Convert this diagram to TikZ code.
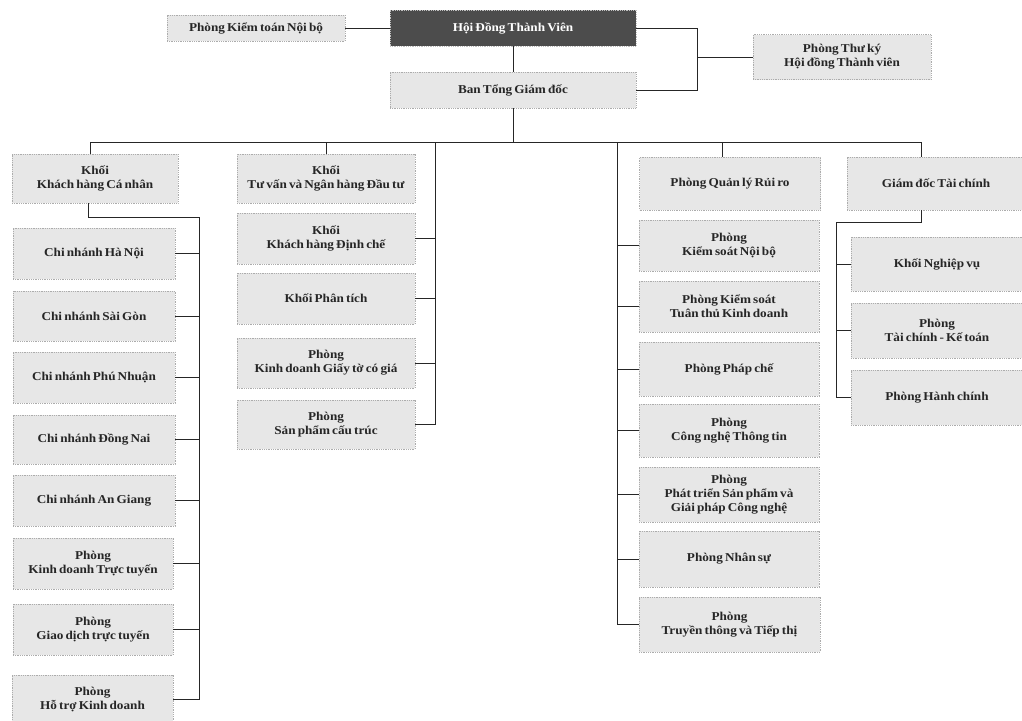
\documentclass[tikz,border=0pt]{standalone}
\usepackage{fontspec}
\setmainfont{Liberation Serif}[WordSpace=0.65, FakeStretch=1.1]
\begin{document}
\begin{tikzpicture}[x=1pt,y=-1pt,
  box/.style={draw=gray!65, densely dotted, line width=0.8pt, fill=gray!19, inner sep=1pt, align=center,
     text=black!85, font=\bfseries\fontsize{12}{14}\selectfont},
  topbox/.style={box, fill=black!70, draw=gray!50, text=white},
  conn/.style={draw=black!85, line width=0.9pt}]
\useasboundingbox (0,0) rectangle (1022,720);
% top
\node[box, minimum width=178pt, minimum height=26pt] (pktnb) at (256,28) {Phòng Kiểm toán Nội bộ};
\node[topbox, minimum width=246pt, minimum height=36pt] (hdtv) at (513,28) {Hội Đồng Thành Viên};
\node[box, minimum width=178pt, minimum height=45pt] (thuky) at (842,57) {Phòng Thư ký\\Hội đồng Thành viên};
\node[box, minimum width=246pt, minimum height=36pt] (btgd) at (513,90) {Ban Tổng Giám đốc};
% left column
\node[box, minimum width=166pt, minimum height=49pt] (kkcn) at (95,178.5) {Khối\\Khách hàng Cá nhân};
\node[box, minimum width=162pt, minimum height=51pt] (cn1) at (94,253.5) {Chi nhánh Hà Nội};
\node[box, minimum width=162pt, minimum height=50pt] (cn2) at (94,316) {Chi nhánh Sài Gòn};
\node[box, minimum width=162pt, minimum height=51pt] (cn3) at (94,377.5) {Chi nhánh Phú Nhuận};
\node[box, minimum width=162pt, minimum height=49pt] (cn4) at (94,439.5) {Chi nhánh Đồng Nai};
\node[box, minimum width=162pt, minimum height=51pt] (cn5) at (94,500.5) {Chi nhánh An Giang};
\node[box, minimum width=160pt, minimum height=51pt] (pkdtt) at (93,563.5) {Phòng\\Kinh doanh Trực tuyến};
\node[box, minimum width=160pt, minimum height=51pt] (pgdtt) at (93,629.5) {Phòng\\Giao dịch trực tuyến};
\node[box, minimum width=161pt, minimum height=48pt] (phtkd) at (92.5,699) {Phòng\\Hỗ trợ Kinh doanh};
% middle column
\node[box, minimum width=178pt, minimum height=49pt] (ktv) at (326,178.5) {Khối\\Tư vấn và Ngân hàng Đầu tư};
\node[box, minimum width=178pt, minimum height=51pt] (kkhdc) at (326,238.5) {Khối\\Khách hàng Định chế};
\node[box, minimum width=178pt, minimum height=51pt] (kpt) at (326,298.5) {Khối Phân tích};
\node[box, minimum width=178pt, minimum height=50pt] (pkdgt) at (326,363) {Phòng\\Kinh doanh Giấy tờ có giá};
\node[box, minimum width=178pt, minimum height=49pt] (pspct) at (326,424.5) {Phòng\\Sản phẩm cấu trúc};
% right column
\node[box, minimum width=181pt, minimum height=53pt] (pqlrr) at (730,183.5) {Phòng Quản lý Rủi ro};
\node[box, minimum width=180pt, minimum height=51pt] (pksnb) at (729,245.5) {Phòng\\Kiểm soát Nội bộ};
\node[box, minimum width=180pt, minimum height=51pt] (pksttkd) at (729,306.5) {Phòng Kiểm soát\\Tuân thủ Kinh doanh};
\node[box, minimum width=180pt, minimum height=54pt] (ppc) at (729,369) {Phòng Pháp chế};
\node[box, minimum width=180pt, minimum height=53pt] (pcntt) at (729,430.5) {Phòng\\Công nghệ Thông tin};
\node[box, minimum width=180pt, minimum height=55pt] (pptsp) at (729,494.5) {Phòng\\Phát triển Sản phẩm và\\Giải pháp Công nghệ};
\node[box, minimum width=180pt, minimum height=56pt] (pns) at (729,559) {Phòng Nhân sự};
\node[box, minimum width=181pt, minimum height=55pt] (ptttt) at (729.5,624.5) {Phòng\\Truyền thông và Tiếp thị};
% finance column
\node[box, minimum width=178pt, minimum height=53pt] (gdtc) at (936,183.5) {Giám đốc Tài chính};
\node[box, minimum width=172pt, minimum height=54pt] (knv) at (937,264) {Khối Nghiệp vụ};
\node[box, minimum width=172pt, minimum height=55pt] (ptckt) at (937,330.5) {Phòng\\Tài chính - Kế toán};
\node[box, minimum width=172pt, minimum height=55pt] (phc) at (937,397.5) {Phòng Hành chính};
% coordinates
\coordinate (tk) at (697,28);
\coordinate (b1) at (90,142);
\coordinate (b2) at (326,142);
\coordinate (b3) at (435,142);
\coordinate (b4) at (617,142);
\coordinate (b5) at (722,142);
\coordinate (b6) at (921,142);
\coordinate (lv) at (199,217);
\coordinate (kx) at (88,217);
\coordinate (rv) at (836,222);
% top connectors
\draw[conn] (pktnb.east) -- (hdtv.west);
\draw[conn] (hdtv.east) -- (tk) -- (tk |- btgd.east) -- (btgd.east);
\draw[conn] (thuky.west) -- (thuky.west -| tk);
\draw[conn] (hdtv.south) -- (btgd.north);
\draw[conn] (btgd.south) -- (btgd.south |- b1);
\draw[conn] (b1) -- (b6);
\draw[conn] (b1) -- (b1 |- kkcn.north);
\draw[conn] (b2) -- (b2 |- ktv.north);
\draw[conn] (b5) -- (b5 |- pqlrr.north);
\draw[conn] (b6) -- (b6 |- gdtc.north);
% left
\draw[conn] (kx |- kkcn.south) -- (kx) -- (lv) -- (lv |- phtkd.east) -- (phtkd.east);
\foreach \n in {cn1,cn2,cn3,cn4,cn5,pkdtt,pgdtt}
  \draw[conn] (\n.east) -- (\n.east -| lv);
% middle
\draw[conn] (b3) -- (b3 |- pspct.east) -- (pspct.east);
\foreach \n in {kkhdc,kpt,pkdgt}
  \draw[conn] (\n.east) -- (\n.east -| b3);
% right
\draw[conn] (b4) -- (b4 |- ptttt.west) -- (ptttt.west);
\foreach \n in {pksnb,pksttkd,ppc,pcntt,pptsp,pns}
  \draw[conn] (\n.west) -- (\n.west -| b4);
% finance
\draw[conn] (b6 |- gdtc.south) -- (b6 |- rv) -- (rv) -- (rv |- phc.west) -- (phc.west);
\foreach \n in {knv,ptckt}
  \draw[conn] (\n.west) -- (\n.west -| rv);
\end{tikzpicture}
\end{document}
